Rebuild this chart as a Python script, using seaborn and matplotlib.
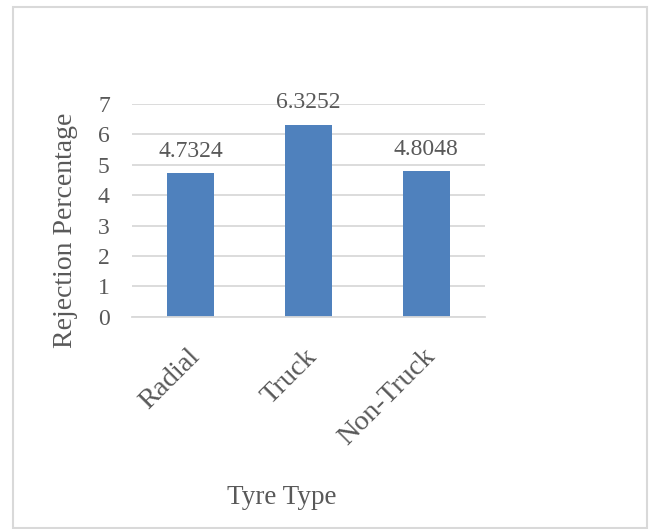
import matplotlib
matplotlib.use("Agg")
import matplotlib.pyplot as plt
import matplotlib.transforms as mtransforms
from matplotlib.patches import Rectangle
import seaborn as sns
import pandas as pd

# Rejection percentage per tyre type
tyre_types = ["Radial", "Truck", "Non-Truck"]
rejection_pct = [4.7324, 6.3252, 4.8048]
y_ticks = [0, 1, 2, 3, 4, 5, 6, 7]

df = pd.DataFrame({"Tyre Type": tyre_types, "Rejection Percentage": rejection_pct})

sns.set_theme(style="white")
plt.rcParams["font.family"] = ["Liberation Serif", "DejaVu Serif"]

TEXT = "#595959"
GRID = "#d9d9d9"
BAR = "#4f81bd"

W, H, DPI = 651, 529, 100
fig = plt.figure(figsize=(W / DPI, H / DPI), dpi=DPI)
fig.patch.set_facecolor("white")

# plot area in pixel terms: x 132..485, y 104..317 (from top)
left, right, top, bottom = 132, 485, 104, 316.7
ax = fig.add_axes([left / W, 1 - bottom / H, (right - left) / W, (bottom - top) / H])

sns.barplot(data=df, x="Tyre Type", y="Rejection Percentage", color=BAR,
            width=0.4, saturation=1, ax=ax, edgecolor="none")

ax.set_ylim(0, 7)
ax.set_xlim(-0.5, 2.5)
ax.set_yticks(y_ticks)
ax.set_yticklabels([str(t) for t in y_ticks])
ax.yaxis.grid(True, color=GRID, linewidth=1.3)
ax.set_axisbelow(True)
for side in ["top", "right", "left"]:
    ax.spines[side].set_visible(False)
ax.spines["bottom"].set_color(GRID)
ax.spines["bottom"].set_linewidth(1.3)
ax.tick_params(axis="both", length=0)
ax.tick_params(axis="y", pad=16, labelsize=17, labelcolor=TEXT)
ax.tick_params(axis="x", pad=0, labelsize=20.5, labelcolor=TEXT)
ax.set_xlabel("")
ax.set_ylabel("")

# rotated category labels, anchored at their right end
offset = mtransforms.ScaledTranslation(5 / DPI, -36 / DPI, fig.dpi_scale_trans)
for lab in ax.get_xticklabels():
    lab.set_rotation(45)
    lab.set_ha("right")
    lab.set_va("center")
    lab.set_rotation_mode("anchor")
    lab.set_transform(lab.get_transform() + offset)

# value labels above bars
for cont in ax.containers:
    ax.bar_label(cont, labels=[f"{v:.4f}" for v in rejection_pct],
                 padding=8, fontsize=17, color=TEXT)

# axis titles
fig.text(65 / W, 1 - 230 / H, "Rejection Percentage", rotation=90,
         ha="center", va="center", fontsize=20, color=TEXT)
fig.text(282 / W, 1 - 497 / H, "Tyre Type", ha="center", va="center",
         fontsize=19.5, color=TEXT)

# chart frame
fig.patches.append(Rectangle((13 / W, 1 - 528 / H), (647 - 13) / W, (528 - 7) / H,
                             transform=fig.transFigure, fill=False,
                             edgecolor=GRID, linewidth=1.5))

fig.savefig("out.png", dpi=DPI)
